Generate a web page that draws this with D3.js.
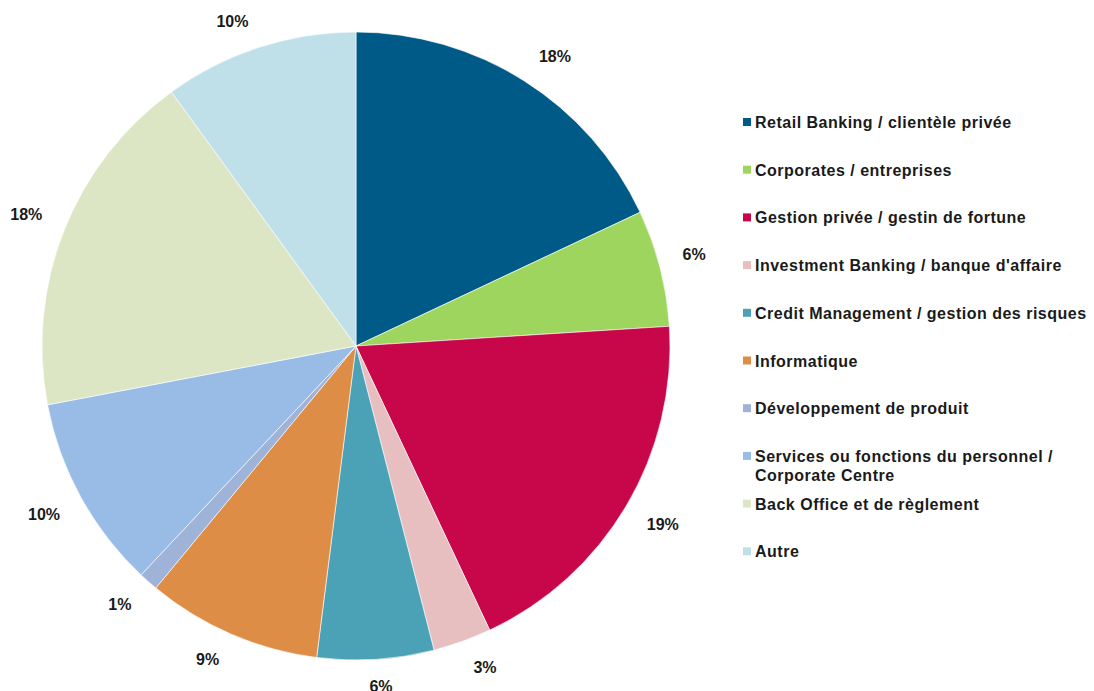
<!DOCTYPE html>
<html>
<head>
<meta charset="utf-8">
<script src="https://cdn.jsdelivr.net/npm/d3@7"></script>
<style>
  html, body { margin: 0; padding: 0; background: #fff; }
  svg { display: block; }
  text { font-family: "Liberation Sans", Arial, sans-serif; font-weight: bold; fill: #1a1a1a; }
</style>
</head>
<body>
<svg id="chart" width="1094" height="691"></svg>
<script>
// Répartition par domaine d'activité (en %)
const categories = [
  "Retail Banking / clientèle privée",
  "Corporates / entreprises",
  "Gestion privée / gestin de fortune",
  "Investment Banking / banque d'affaire",
  "Credit Management / gestion des risques",
  "Informatique",
  "Développement de produit",
  "Services ou fonctions du personnel / Corporate Centre",
  "Back Office et de règlement",
  "Autre"
];
const values = [18, 6, 19, 3, 6, 9, 1, 10, 18, 10];
const palette = [
  "#005a87", "#9ed55f", "#c8074a", "#e8bfc1", "#4ba1b6",
  "#de8d47", "#9fb3d8", "#99bce6", "#dce6c5", "#bfe0e9"
];
// Legend entries, split where they wrap
const legendLines = [
  ["Retail Banking / clientèle privée"],
  ["Corporates / entreprises"],
  ["Gestion privée / gestin de fortune"],
  ["Investment Banking / banque d'affaire"],
  ["Credit Management / gestion des risques"],
  ["Informatique"],
  ["Développement de produit"],
  ["Services ou fonctions du personnel /", "Corporate Centre"],
  ["Back Office et de règlement"],
  ["Autre"]
];

const svg = d3.select("#chart");
const cx = 356, cy = 346, radius = 314, labelRadius = 332;

const color = d3.scaleOrdinal().domain(categories).range(palette);

const pie = d3.pie().sort(null).value(d => d.value);
const data = categories.map((c, i) => ({ name: c, value: values[i] }));
const arcs = pie(data);

const arc = d3.arc().innerRadius(0).outerRadius(radius);

const g = svg.append("g").attr("transform", `translate(${cx},${cy})`);

g.selectAll("path.slice")
  .data(arcs)
  .join("path")
  .attr("class", "slice")
  .attr("d", arc)
  .attr("fill", d => color(d.data.name))
  .attr("stroke", "#ffffff")
  .attr("stroke-width", 0.6);

// Outside-end data labels: the label box is pushed off the rim by its own extent
const clamp = t => Math.max(-1, Math.min(1, t * 4));
g.selectAll("text.pct")
  .data(arcs)
  .join("text")
  .attr("class", "pct")
  .attr("text-anchor", "middle")
  .attr("dominant-baseline", "central")
  .style("font-size", "16px")
  .text(d => `${d.data.value}%`)
  .attr("transform", function(d) {
    const a = (d.startAngle + d.endAngle) / 2;
    const s = Math.sin(a), c = Math.cos(a);
    const hw = this.getBBox().width / 2 + 5, hh = 9;
    const x = labelRadius * s + clamp(s) * hw;
    const y = -labelRadius * c - clamp(c) * hh;
    return `translate(${x},${y})`;
  });

// Legend
const legend = svg.append("g").attr("transform", "translate(743,122)");
const rowStep = 47.7;
const item = legend.selectAll("g.item")
  .data(categories)
  .join("g")
  .attr("class", "item")
  .attr("transform", (d, i) => `translate(0,${i * rowStep})`);

item.append("rect")
  .attr("x", 0).attr("y", -4)
  .attr("width", 8).attr("height", 8)
  .attr("fill", d => color(d));

item.append("text")
  .attr("x", 12)
  .attr("y", 0)
  .attr("dominant-baseline", "central")
  .style("font-size", "16px")
  .style("letter-spacing", "0.5px")
  .each(function(d, i) {
    const t = d3.select(this);
    legendLines[i].forEach((line, k) => {
      t.append("tspan").attr("x", 12).attr("dy", k === 0 ? 0 : 19).text(line);
    });
  });
</script>
</body>
</html>
